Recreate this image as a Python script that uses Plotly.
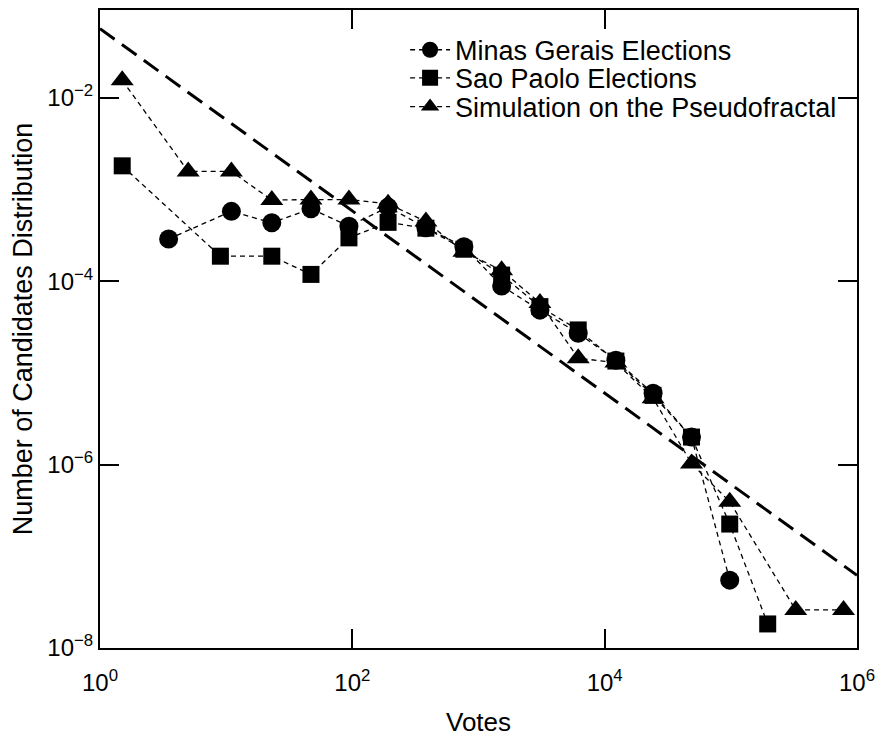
import plotly.graph_objects as go

# ---- data ----
x_mg = [3.5, 11, 23, 47, 94, 192, 383, 766, 1525, 3067, 6170, 12270, 24200, 48800, 98000]
y_mg = [2.9e-4, 5.8e-4, 4.35e-4, 6.2e-4, 4.0e-4, 6.45e-4, 3.85e-4, 2.38e-4, 8.9e-5,
        4.85e-5, 2.72e-5, 1.38e-5, 6.0e-6, 2.0e-6, 5.5e-8]

x_sp = [1.5, 9, 23, 47, 94, 192, 383, 766, 1525, 3067, 6170, 12270, 24200, 48800, 98000, 196000]
y_sp = [1.82e-3, 1.88e-4, 1.88e-4, 1.19e-4, 2.98e-4, 4.4e-4, 3.8e-4, 2.24e-4, 1.17e-4,
        5.3e-5, 2.95e-5, 1.35e-5, 5.7e-6, 2.0e-6, 2.25e-7, 1.83e-8]

x_sim = [1.5, 5, 11, 23, 47, 94, 192, 383, 766, 1525, 3067, 6170, 12270, 24200, 48800,
         98000, 327000, 782000]
y_sim = [1.56e-2, 1.58e-3, 1.58e-3, 7.7e-4, 7.8e-4, 7.8e-4, 7.0e-4, 4.5e-4, 2.1e-4, 1.32e-4,
         5.8e-5, 1.45e-5, 1.3e-5, 5.3e-6, 1.03e-6, 3.94e-7, 2.6e-8, 2.6e-8]

x_fit = [1, 1e6]
y_fit = [0.057, 6.2e-8]

names = ["Minas Gerais Elections", "Sao Paolo Elections", "Simulation on the Pseudofractal"]

x_tickvals = [1, 1e2, 1e4, 1e6]
x_ticktext = ["10<sup>0</sup>", "10<sup>2</sup>", "10<sup>4</sup>", "10<sup>6</sup>"]
y_tickvals = [1e-8, 1e-6, 1e-4, 1e-2]
y_ticktext = ["10<sup>\u22128</sup>", "10<sup>\u22126</sup>", "10<sup>\u22124</sup>", "10<sup>\u22122</sup>"]

FONT = "Liberation Sans, Arial, sans-serif"
line_style = dict(color="black", width=1.3, dash="5px,4px")

fig = go.Figure()
fig.add_trace(go.Scatter(x=x_fit, y=y_fit, mode="lines", showlegend=False,
                         line=dict(color="black", width=3, dash="18px,9px")))
fig.add_trace(go.Scatter(x=x_mg, y=y_mg, mode="lines+markers", name=names[0], legend="legend",
                         line=line_style, marker=dict(symbol="circle", size=19, color="black")))
fig.add_trace(go.Scatter(x=x_sp, y=y_sp, mode="lines+markers", name=names[1], legend="legend2",
                         line=line_style, marker=dict(symbol="square", size=17, color="black")))
fig.add_trace(go.Scatter(x=x_sim, y=y_sim, mode="lines+markers", name=names[2], legend="legend3",
                         line=line_style, marker=dict(symbol="triangle-up", size=20, color="black")))

axis_common = dict(type="log", showline=True, linecolor="black", linewidth=2, mirror="ticks",
                   ticks="inside", ticklen=19, tickwidth=2, tickcolor="black",
                   showgrid=False, zeroline=False, automargin=False,
                   tickfont=dict(family=FONT, size=24, color="black"))

fig.update_layout(
    width=881, height=737,
    margin=dict(l=100, r=24, t=10, b=89),
    paper_bgcolor="white", plot_bgcolor="white",
    font=dict(family=FONT, color="black"),
    xaxis=dict(range=[0, 6], tickvals=x_tickvals, ticktext=x_ticktext, ticklabelstandoff=12,
               title=dict(text="Votes", font=dict(family=FONT, size=26), standoff=30),
               **axis_common),
    yaxis=dict(range=[-8, -1.04], tickvals=y_tickvals, ticktext=y_ticktext, ticklabelstandoff=0,
               title=dict(text="Number of Candidates Distribution", font=dict(family=FONT, size=27),
                          standoff=7),
               **axis_common),
)

leg = dict(x=0.403, xanchor="left", yanchor="middle", bgcolor="rgba(0,0,0,0)",
           font=dict(family=FONT, size=27, color="black"), itemwidth=40)
fig.update_layout(
    legend=dict(y=0.937, **leg),
    legend2=dict(y=0.893, **leg),
    legend3=dict(y=0.848, **leg),
)

fig.write_html("out.html", config={"displayModeBar": False},
               post_script="document.body.style.margin='0';document.body.style.padding='0';")
